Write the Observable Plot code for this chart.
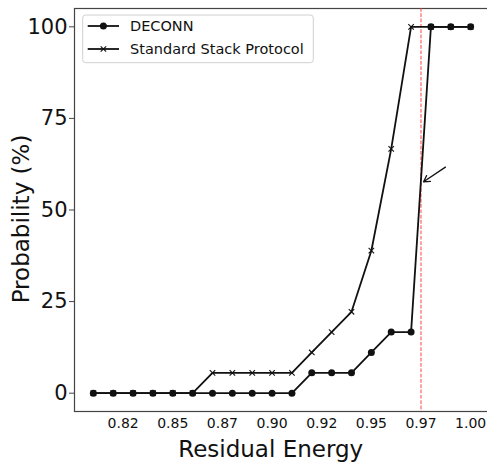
<!DOCTYPE html>
<html>
<head>
<meta charset="utf-8">
<script src="https://cdn.jsdelivr.net/npm/d3@7"></script>
<script src="https://cdn.jsdelivr.net/npm/@observablehq/plot@0.6"></script>
<style>
  html, body { margin: 0; padding: 0; background: white; }
</style>
</head>
<body>
<div id="chart"></div>
<script>
const xValues = [0.81, 0.82, 0.83, 0.84, 0.85, 0.86, 0.87, 0.88, 0.89, 0.90,
                 0.91, 0.92, 0.93, 0.94, 0.95, 0.96, 0.97, 0.98, 0.99, 1.00];
const deconnValues = [0, 0, 0, 0, 0, 0, 0, 0, 0, 0,
                      0, 5.56, 5.56, 5.56, 11.11, 16.67, 16.67, 100, 100, 100];
const standardValues = [0, 0, 0, 0, 0, 0, 5.56, 5.56, 5.56, 5.56,
                        5.56, 11.11, 16.67, 22.22, 38.89, 66.67, 100, 100, 100, 100];
const seriesNames = ["DECONN", "Standard Stack Protocol"];
const xTicks = [0.825, 0.85, 0.875, 0.9, 0.925, 0.95, 0.975, 1.0];
const xTickLabels = ["0.82", "0.85", "0.87", "0.90", "0.92", "0.95", "0.97", "1.00"];
const yTicks = [0, 25, 50, 75, 100];
const thresholdX = [0.975];
const annotationArrow = [{x1: 0.9873, y1: 61.7, x2: 0.9763, y2: 57.7}];
const xLabel = "Residual Energy";
const yLabel = "Probability (%)";

const deconn = xValues.map((x, i) => ({x, y: deconnValues[i]}));
const standard = xValues.map((x, i) => ({x, y: standardValues[i]}));

const ink = "#111";
const spine = "#444";
const timesR = 2.6;

const plot = Plot.plot({
  width: 487,
  height: 468,
  marginLeft: 74,
  marginRight: -2,
  marginTop: 8,
  marginBottom: 57,
  style: {fontFamily: "DejaVu Sans", background: "white", color: ink},
  x: {domain: [0.8005, 1.0095]},
  y: {domain: [-5, 105]},
  marks: [
    Plot.frame({stroke: spine, strokeWidth: 1.2}),
    Plot.axisX({ticks: xTicks, tickFormat: d => xTickLabels[xTicks.indexOf(d)],
                tickSize: 0, tickPadding: 7, fontSize: 14, label: null}),
    Plot.axisY({ticks: yTicks, tickSize: 5, tickPadding: 2, fontSize: 21,
                label: null, stroke: spine}),
    Plot.ruleX(thresholdX, {stroke: "#ff3b3b", strokeOpacity: 0.8,
                            strokeDasharray: "3.7,1.6", strokeWidth: 1.2}),
    Plot.line(deconn, {x: "x", y: "y", stroke: ink, strokeWidth: 1.8}),
    Plot.dot(deconn, {x: "x", y: "y", r: 3.5, fill: ink, stroke: null}),
    Plot.line(standard, {x: "x", y: "y", stroke: ink, strokeWidth: 1.8}),
    Plot.dot(standard, {x: "x", y: "y", r: timesR, symbol: "times",
                        stroke: ink, strokeWidth: 1.1}),
    Plot.arrow(annotationArrow, {x1: "x1", y1: "y1", x2: "x2", y2: "y2",
                                 stroke: ink, strokeWidth: 1.3, headLength: 8})
  ]
});

document.getElementById("chart").appendChild(plot);

const svg = d3.select(plot);

// Axis labels
svg.append("text")
  .attr("x", 270.7).attr("y", 457)
  .attr("text-anchor", "middle")
  .attr("font-family", "DejaVu Sans")
  .attr("font-size", 23)
  .attr("fill", ink)
  .text(xLabel);

svg.append("text")
  .attr("transform", "translate(28.7,219) rotate(-90)")
  .attr("text-anchor", "middle")
  .attr("font-family", "DejaVu Sans")
  .attr("font-size", 23)
  .attr("fill", ink)
  .text(yLabel);

// Legend
const lg = svg.append("g");
lg.append("rect")
  .attr("x", 82.7).attr("y", 15).attr("width", 230.6).attr("height", 47.7)
  .attr("rx", 3).attr("fill", "white").attr("fill-opacity", 0.8)
  .attr("stroke", "#d0d0d0").attr("stroke-width", 1);
const rowsY = [26, 49];
seriesNames.forEach((name, i) => {
  const y = rowsY[i];
  lg.append("line").attr("x1", 87.7).attr("x2", 119).attr("y1", y).attr("y2", y)
    .attr("stroke", ink).attr("stroke-width", 1.8);
  if (i === 0) {
    lg.append("circle").attr("cx", 103.4).attr("cy", y).attr("r", 3.5).attr("fill", ink);
  } else {
    lg.append("path")
      .attr("transform", `translate(103.4,${y})`)
      .attr("d", d3.symbol(d3.symbolTimes, timesR * timesR * Math.PI)())
      .attr("stroke", ink).attr("stroke-width", 1.1).attr("fill", "none");
  }
  lg.append("text").attr("x", 130).attr("y", y)
    .attr("dy", "0.36em")
    .attr("text-anchor", "start")
    .attr("font-family", "DejaVu Sans").attr("font-size", 14.5)
    .attr("fill", ink).text(name);
});
</script>
</body>
</html>
